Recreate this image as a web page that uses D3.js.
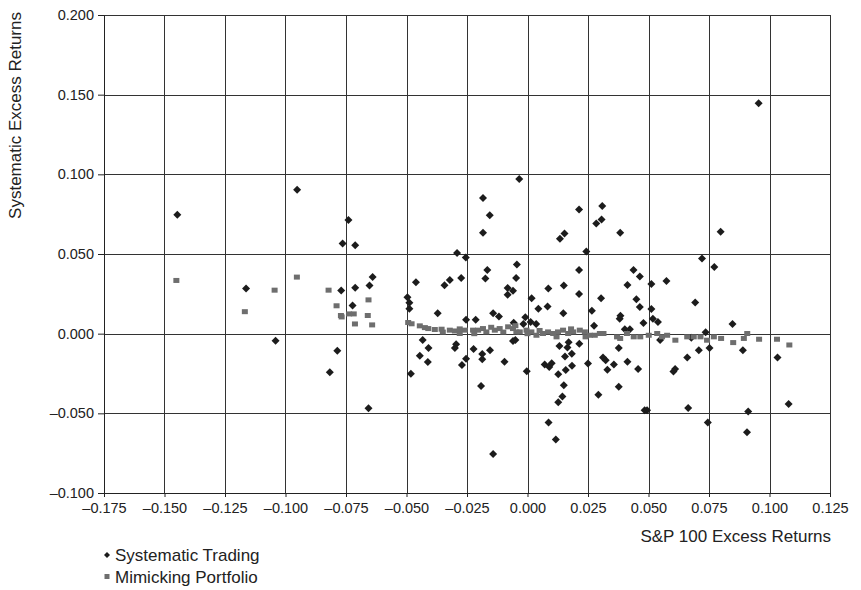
<!DOCTYPE html>
<meta charset="utf-8">
<style>
body { margin: 0; padding: 0; background: #fff; }
svg { font-family: "Liberation Sans", Arial, sans-serif; }
.axis .domain { stroke: #222; }
.axis line { stroke: #222; }
.axis text { fill: #222; font-size: 14.5px; }
.grid line { stroke: #333; stroke-width: 1; }
</style>
<svg width="861" height="590"></svg>
<script src="https://d3js.org/d3.v7.min.js"></script>
<script>

// Systematic Trading (diamonds)
var tradingX = [
  -0.1447, -0.1163, -0.0952, -0.1041, -0.0786, -0.0740, -0.0764, -0.0712, -0.0770, -0.0712,
  -0.0723, -0.0653, -0.0640, -0.0817, -0.0657,
  -0.0034, -0.0184, -0.0156, -0.0184, -0.0291, -0.0255, -0.0166, -0.0044, -0.0174, -0.0047,
  -0.0274, -0.0321, -0.0343, -0.0461, -0.0082, -0.0060, -0.0082, -0.0496, -0.0488, -0.0488,
  -0.0371, -0.0254, -0.0214, -0.0142, -0.0118, -0.0057, -0.0009, 0.0013, 0.0036, -0.0017,
  0.0017, 0.0045, 0.0086, 0.0083, 0.0150, 0.0148, 0.0213, 0.0213, 0.0134, 0.0153,
  0.0213, 0.0243, 0.0266, 0.0304, 0.0275, 0.0284, 0.0306, 0.0309,
  0.0383, 0.0798, 0.0721, 0.0772, 0.0438, 0.0464, 0.0413, 0.0512, 0.0574, 0.0450,
  0.0464, 0.0512, 0.0693, 0.0384, 0.0381, 0.0479, 0.0518, 0.0539, 0.0847, 0.0402, 0.0423,
  -0.0433, -0.0409, -0.0445, -0.0412, -0.0482, -0.0295, -0.0300, -0.0223, -0.0254, -0.0271,
  -0.0187, -0.0187, -0.0155, -0.0192, -0.0095, -0.0060, -0.0050, -0.0003, 0.0132, 0.0165,
  0.0170, 0.0155, 0.0183, 0.0214, 0.0071, 0.0090, 0.0100, 0.0127, 0.0158, 0.0184,
  0.0250, 0.0312, 0.0150, 0.0144, 0.0127, 0.0293, 0.0087, 0.0117, -0.0142,
  0.0377, 0.0323, 0.0357, 0.0330, 0.0413, 0.0457, 0.0377, 0.0548, 0.0660, 0.0708,
  0.0752, 0.0610, 0.0603, 0.0484, 0.0494, 0.0664, 0.0745, 0.0890, 0.0912, 0.0907,
  0.1033, 0.1079, 0.0736, 0.0677, 0.0955
];
var tradingY = [
  0.0746, 0.0284, 0.0903, -0.0045, -0.0108, 0.0713, 0.0566, 0.0555, 0.0271, 0.0288,
  0.0177, 0.0303, 0.0356, -0.0242, -0.0468,
  0.0970, 0.0851, 0.0743, 0.0633, 0.0507, 0.0478, 0.0400, 0.0434, 0.0346, 0.0349,
  0.0349, 0.0337, 0.0304, 0.0322, 0.0287, 0.0270, 0.0245, 0.0228, 0.0194, 0.0156,
  0.0128, 0.0088, 0.0088, 0.0128, 0.0107, 0.0069, 0.0103, 0.0074, 0.0061, 0.0061,
  0.0222, 0.0157, 0.0283, 0.0170, 0.0302, 0.0128, 0.0400, 0.0249, 0.0595, 0.0629,
  0.0780, 0.0516, 0.0144, 0.0222, 0.0050, 0.0692, 0.0717, 0.0801,
  0.0633, 0.0639, 0.0471, 0.0419, 0.0400, 0.0359, 0.0306, 0.0312, 0.0331, 0.0216,
  0.0168, 0.0155, 0.0195, 0.0113, 0.0094, 0.0067, 0.0094, 0.0074, 0.0061, 0.0027, 0.0027,
  -0.0040, -0.0090, -0.0138, -0.0178, -0.0251, -0.0067, -0.0090, -0.0096, -0.0157, -0.0196,
  -0.0127, -0.0160, -0.0104, -0.0328, -0.0176, -0.0046, -0.0040, -0.0236, -0.0078, -0.0087,
  -0.0054, -0.0144, -0.0126, -0.0063, -0.0193, -0.0209, -0.0186, -0.0255, -0.0228, -0.0201,
  -0.0188, -0.0149, -0.0324, -0.0395, -0.0431, -0.0383, -0.0557, -0.0664, -0.0755,
  -0.0090, -0.0167, -0.0193, -0.0226, -0.0176, -0.0222, -0.0333, -0.0040, -0.0149, -0.0104,
  -0.0090, -0.0222, -0.0237, -0.0480, -0.0480, -0.0466, -0.0557, -0.0104, -0.0488, -0.0618,
  -0.0149, -0.0441, 0.0009, -0.0025, 0.1446
];

// Mimicking Portfolio (squares)
var mimicX = [
  -0.1451, -0.1168, -0.1045, -0.0953, -0.0822, -0.0789, -0.0771, -0.0768, -0.0737, -0.0718,
  -0.0713, -0.0657, -0.0660, -0.0642,
  -0.0493, -0.0479, -0.0445, -0.0424, -0.0410, -0.0383, -0.0355, -0.0321, -0.0300, -0.0280,
  -0.0259, -0.0225, -0.0204, -0.0184, -0.0170, -0.0135, -0.0115, -0.0080, -0.0060, -0.0046,
  -0.0032, -0.0004, 0.0016, 0.0037, 0.0064, 0.0085, 0.0106, 0.0126, 0.0147, 0.0168,
  0.0189, 0.0216, 0.0237, 0.0258, 0.0278, 0.0299,
  -0.0350, -0.0280, -0.0220, -0.0150, -0.0100, -0.0050, 0.0000, 0.0050, 0.0120, 0.0180, 0.0240,
  0.0314, 0.0370, 0.0383, 0.0411, 0.0439, 0.0466, 0.0501, 0.0536, 0.0556, 0.0577,
  0.0611, 0.0660, 0.0687, 0.0715, 0.0742, 0.0770, 0.0800, 0.0850, 0.0894, 0.0908,
  0.0957, 0.1031, 0.1082
];
var mimicY = [
  0.0334, 0.0138, 0.0273, 0.0355, 0.0273, 0.0175, 0.0114, 0.0105, 0.0124, 0.0124,
  0.0061, 0.0212, 0.0114, 0.0055,
  0.0070, 0.0062, 0.0049, 0.0038, 0.0032, 0.0026, 0.0028, 0.0022, 0.0017, 0.0001,
  0.0022, 0.0022, 0.0022, 0.0032, 0.0011, 0.0022, 0.0032, 0.0043, 0.0032, 0.0011,
  0.0011, 0.0022, 0.0011, -0.0010, 0.0001, 0.0011, 0.0001, 0.0011, 0.0022, 0.0001,
  0.0011, 0.0022, 0.0011, -0.0010, -0.0010, 0.0001,
  0.0010, 0.0030, 0.0000, 0.0040, 0.0010, 0.0050, 0.0000, 0.0020, -0.0020, 0.0030, -0.0020,
  0.0001, -0.0020, -0.0030, 0.0001, -0.0020, -0.0020, -0.0010, 0.0001, -0.0020, -0.0010,
  -0.0041, -0.0020, -0.0020, -0.0020, -0.0041, -0.0020, -0.0030, -0.0056, -0.0030, 0.0001,
  -0.0035, -0.0035, -0.0071
];

var xTicks = [-0.175, -0.15, -0.125, -0.1, -0.075, -0.05, -0.025, 0, 0.025, 0.05, 0.075, 0.1, 0.125];
var yTicks = [-0.1, -0.05, 0, 0.05, 0.1, 0.15, 0.2];

var svg = d3.select("svg"),
    margin = {top: 15, right: 31, bottom: 97, left: 104},
    width = +svg.attr("width") - margin.left - margin.right,
    height = +svg.attr("height") - margin.top - margin.bottom,
    g = svg.append("g").attr("transform", "translate(" + margin.left + "," + margin.top + ")");

var x = d3.scaleLinear().domain([-0.175, 0.125]).range([0, width]);
var y = d3.scaleLinear().domain([-0.1, 0.2]).range([height, 0]);

var fmt = function(d) { return d3.format(".3f")(d).replace("−", "–").replace("-", "–"); };

// gridlines
g.append("g").attr("class", "grid")
  .selectAll("line").data(xTicks).enter().append("line")
    .attr("x1", function(d) { return Math.round(x(d)) + 0.5; })
    .attr("x2", function(d) { return Math.round(x(d)) + 0.5; })
    .attr("y1", 0).attr("y2", height);

g.append("g").attr("class", "grid")
  .selectAll("line").data(yTicks).enter().append("line")
    .attr("y1", function(d) { return Math.round(y(d)) + 0.5; })
    .attr("y2", function(d) { return Math.round(y(d)) + 0.5; })
    .attr("x1", 0).attr("x2", width);

g.append("g")
    .attr("class", "axis")
    .attr("transform", "translate(0," + height + ")")
    .call(d3.axisBottom(x).tickValues(xTicks).tickFormat(fmt).tickSizeInner(4).tickSizeOuter(0).tickPadding(6));

g.append("g")
    .attr("class", "axis")
    .call(d3.axisLeft(y).tickValues(yTicks).tickFormat(fmt).tickSizeInner(6).tickSizeOuter(0).tickPadding(4));

var trading = tradingX.map(function(v, i) { return {x: v, y: tradingY[i]}; });
var mimic = mimicX.map(function(v, i) { return {x: v, y: mimicY[i]}; });

g.append("g").selectAll("path").data(trading).enter().append("path")
    .attr("d", "M0,-4L4,0L0,4L-4,0Z")
    .attr("fill", "#1c1c1c")
    .attr("transform", function(d) { return "translate(" + x(d.x) + "," + y(d.y) + ")"; });

g.append("g").selectAll("rect").data(mimic).enter().append("rect")
    .attr("x", function(d) { return x(d.x) - 3; })
    .attr("y", function(d) { return y(d.y) - 2.5; })
    .attr("width", 6)
    .attr("height", 5)
    .attr("fill", "#6e6e6e");

// axis titles
svg.append("text")
    .attr("x", margin.left + width + 1)
    .attr("y", 542)
    .attr("text-anchor", "end")
    .attr("fill", "#222")
    .attr("font-size", 17)
    .text("S&P 100 Excess Returns");

svg.append("text")
    .attr("transform", "translate(21,12) rotate(-90)")
    .attr("text-anchor", "end")
    .attr("fill", "#222")
    .attr("font-size", 17)
    .text("Systematic Excess Returns");

// legend
var legend = svg.append("g").attr("transform", "translate(107,0)");
legend.append("path")
    .attr("d", "M0,-3L3,0L0,3L-3,0Z")
    .attr("fill", "#1c1c1c")
    .attr("transform", "translate(0,555)");
legend.append("text")
    .attr("x", 8).attr("y", 561)
    .attr("fill", "#222").attr("font-size", 17)
    .text("Systematic Trading");
legend.append("rect")
    .attr("x", -2.5).attr("y", 574).attr("width", 5).attr("height", 5)
    .attr("fill", "#6e6e6e");
legend.append("text")
    .attr("x", 8).attr("y", 583)
    .attr("fill", "#222").attr("font-size", 17)
    .text("Mimicking Portfolio");

</script>
